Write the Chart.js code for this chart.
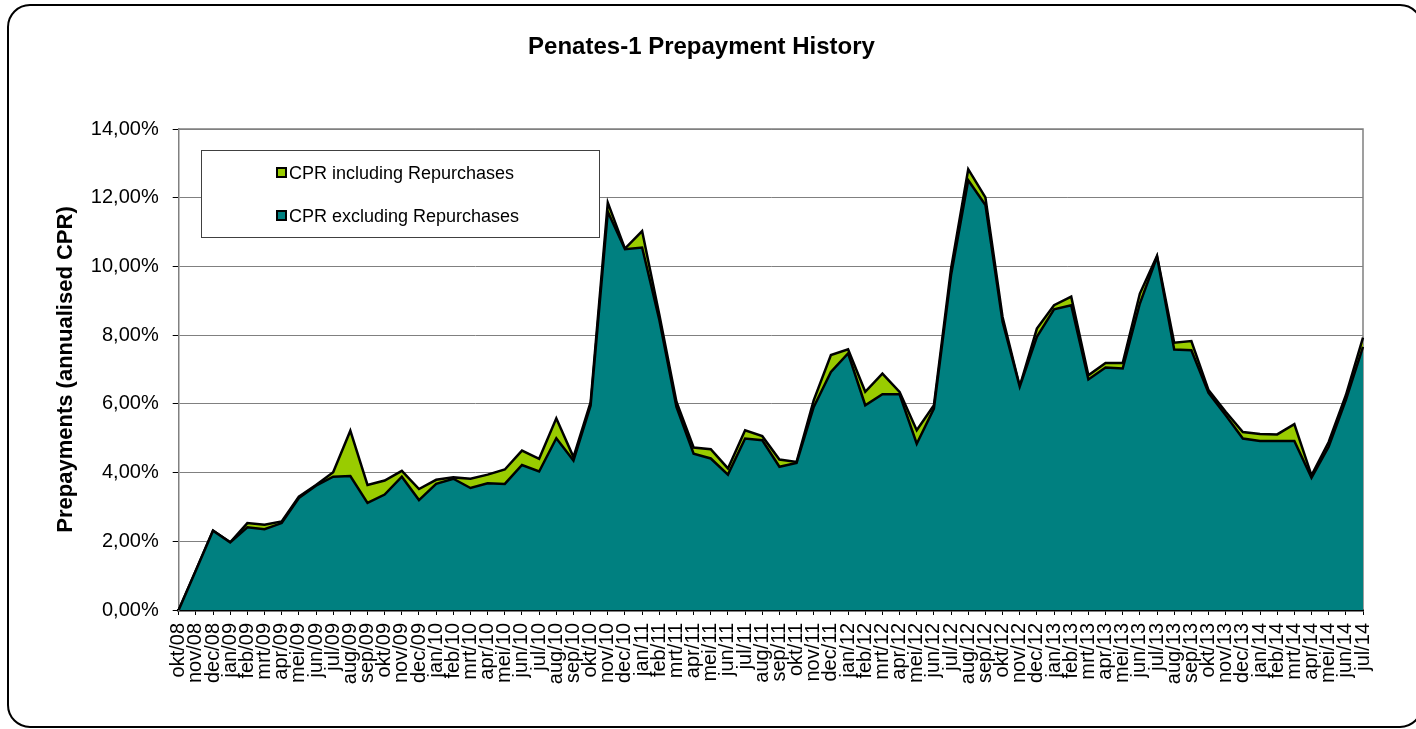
<!DOCTYPE html>
<html>
<head>
<meta charset="utf-8">
<script src="https://cdn.jsdelivr.net/npm/chart.js@4.4.1/dist/chart.umd.min.js"></script>
<style>
  html, body { margin: 0; padding: 0; background: #ffffff; }
  #wrap { width: 1416px; height: 729px; position: relative; }
</style>
</head>
<body>
<div id="wrap"><canvas id="c" width="1416" height="729"></canvas></div>
<script>
const chartTitle = 'Penates-1 Prepayment History';
const yAxisTitle = 'Prepayments (annualised CPR)';
const seriesNames = ['CPR including Repurchases', 'CPR excluding Repurchases'];

const months = ['okt/08','nov/08','dec/08',
  'jan/09','feb/09','mrt/09','apr/09','mei/09','jun/09','jul/09','aug/09','sep/09','okt/09','nov/09','dec/09',
  'jan/10','feb/10','mrt/10','apr/10','mei/10','jun/10','jul/10','aug/10','sep/10','okt/10','nov/10','dec/10',
  'jan/11','feb/11','mrt/11','apr/11','mei/11','jun/11','jul/11','aug/11','sep/11','okt/11','nov/11','dec/11',
  'jan/12','feb/12','mrt/12','apr/12','mei/12','jun/12','jul/12','aug/12','sep/12','okt/12','nov/12','dec/12',
  'jan/13','feb/13','mrt/13','apr/13','mei/13','jun/13','jul/13','aug/13','sep/13','okt/13','nov/13','dec/13',
  'jan/14','feb/14','mrt/14','apr/14','mei/14','jun/14','jul/14'];

// CPR including repurchases (%)
const cprIncl = [0, 1.15, 2.31, 1.97, 2.53, 2.48, 2.58, 3.30, 3.64, 4.01,
  5.22, 3.64, 3.77, 4.05, 3.52, 3.79, 3.86, 3.82, 3.94, 4.09,
  4.64, 4.40, 5.58, 4.45, 6.05, 11.86, 10.52, 11.03, 8.60, 6.06,
  4.73, 4.68, 4.12, 5.23, 5.06, 4.38, 4.31, 6.11, 7.42, 7.59,
  6.35, 6.88, 6.35, 5.23, 5.96, 9.94, 12.83, 12.01, 8.53, 6.51,
  8.19, 8.87, 9.12, 6.83, 7.19, 7.19, 9.21, 10.31, 7.78, 7.83,
  6.40, 5.77, 5.18, 5.12, 5.11, 5.41, 3.92, 4.89, 6.25, 7.93];

// CPR excluding repurchases (%)
const cprExcl = [0, 1.15, 2.31, 1.97, 2.41, 2.35, 2.53, 3.26, 3.62, 3.88,
  3.90, 3.12, 3.36, 3.88, 3.20, 3.67, 3.82, 3.55, 3.69, 3.67,
  4.22, 4.03, 5.00, 4.35, 5.95, 11.59, 10.50, 10.55, 8.45, 5.91,
  4.55, 4.41, 3.94, 4.99, 4.94, 4.17, 4.28, 5.91, 6.93, 7.47,
  5.96, 6.28, 6.28, 4.84, 5.86, 9.75, 12.51, 11.79, 8.39, 6.50,
  7.95, 8.75, 8.87, 6.71, 7.06, 7.03, 8.92, 10.28, 7.58, 7.56,
  6.32, 5.67, 4.99, 4.92, 4.92, 4.92, 3.85, 4.75, 6.11, 7.66];

const yMin = 0, yMax = 14, yStep = 2;

const colIncl = '#99cc00';
const colExcl = '#008080';
const FONT = '"Liberation Sans", Arial, Helvetica, sans-serif';

const backgroundPlugin = {
  id: 'bg',
  beforeDraw(chart) {
    const ctx = chart.ctx;
    ctx.save();
    ctx.fillStyle = '#ffffff';
    ctx.fillRect(0, 0, chart.width, chart.height);
    ctx.restore();
  }
};

const plotBorderPlugin = {
  id: 'plotBorder',
  beforeDatasetsDraw(chart) {
    const {ctx, chartArea: a} = chart;
    ctx.save();
    ctx.strokeStyle = '#808080';
    ctx.lineWidth = 1.5;
    ctx.beginPath();
    ctx.moveTo(a.left, a.top);
    ctx.lineTo(a.right, a.top);
    ctx.lineTo(a.right, a.bottom);
    ctx.stroke();
    ctx.restore();
  }
};

const legendFramePlugin = {
  id: 'legendFrame',
  afterDraw(chart) {
    const ctx = chart.ctx;
    ctx.save();
    // legend box
    ctx.fillStyle = '#ffffff';
    ctx.fillRect(202, 151, 397, 86);
    ctx.strokeStyle = '#404040';
    ctx.lineWidth = 1;
    ctx.strokeRect(201.5, 150.5, 398, 87);
    const rows = [
      {label: chart.data.datasets[1].label, color: chart.data.datasets[1].backgroundColor, y: 173},
      {label: chart.data.datasets[0].label, color: chart.data.datasets[0].backgroundColor, y: 216}
    ];
    ctx.font = '18px ' + FONT;
    ctx.textBaseline = 'middle';
    ctx.textAlign = 'left';
    rows.forEach(r => {
      ctx.fillStyle = r.color;
      ctx.fillRect(277, r.y - 5, 9, 9);
      ctx.strokeStyle = '#000000';
      ctx.lineWidth = 2;
      ctx.strokeRect(277, r.y - 5, 9, 9);
      ctx.fillStyle = '#000000';
      ctx.fillText(r.label, 289, r.y + 1);
    });
    // outer rounded frame
    ctx.strokeStyle = '#000000';
    ctx.lineWidth = 2;
    ctx.beginPath();
    const x = 8, y = 5, w = 1414, h = 722, rr = 22;
    ctx.moveTo(x + rr, y);
    ctx.lineTo(x + w - rr, y);
    ctx.arcTo(x + w, y, x + w, y + rr, rr);
    ctx.lineTo(x + w, y + h - rr);
    ctx.arcTo(x + w, y + h, x + w - rr, y + h, rr);
    ctx.lineTo(x + rr, y + h);
    ctx.arcTo(x, y + h, x, y + h - rr, rr);
    ctx.lineTo(x, y + rr);
    ctx.arcTo(x, y, x + rr, y, rr);
    ctx.closePath();
    ctx.stroke();
    ctx.restore();
  }
};

new Chart(document.getElementById('c'), {
  type: 'line',
  data: {
    labels: months,
    datasets: [
      {
        label: seriesNames[1],
        data: cprExcl,
        backgroundColor: colExcl,
        borderColor: '#000000',
        borderWidth: 2.5,
        fill: 'origin',
        pointRadius: 0,
        tension: 0,
        order: 0
      },
      {
        label: seriesNames[0],
        data: cprIncl,
        backgroundColor: colIncl,
        borderColor: '#000000',
        borderWidth: 2.5,
        fill: 'origin',
        pointRadius: 0,
        tension: 0,
        order: 1
      }
    ]
  },
  options: {
    responsive: false,
    animation: false,
    devicePixelRatio: 1,
    layout: { padding: { left: 40, right: 53, top: 0, bottom: 0 } },
    plugins: {
      legend: { display: false },
      tooltip: { enabled: false },
      title: {
        display: true,
        text: chartTitle,
        color: '#000000',
        font: { family: FONT, size: 24, weight: 'bold' },
        padding: { top: 32.6, bottom: 67.6 }
      }
    },
    scales: {
      x: {
        type: 'category',
        offset: false,
        grid: { display: true, drawOnChartArea: false, drawTicks: true, tickLength: 5, color: '#000000', lineWidth: 1 },
        border: { display: true, color: '#000000', width: 2.5 },
        ticks: {
          autoSkip: false,
          minRotation: 90,
          maxRotation: 90,
          padding: 8,
          color: '#000000',
          font: { family: FONT, size: 20 }
        },
        afterFit(scale) { scale.height = 119; }
      },
      y: {
        min: yMin,
        max: yMax,
        grid: { color: '#808080', lineWidth: 1, drawTicks: true, tickLength: 6, tickColor: '#000000' },
        border: { display: true, color: '#808080', width: 1.5 },
        ticks: {
          stepSize: yStep,
          padding: 14,
          color: '#000000',
          font: { family: FONT, size: 20 },
          callback: v => v.toFixed(2).replace('.', ',') + '%'
        },
        title: {
          display: true,
          text: yAxisTitle,
          color: '#000000',
          font: { family: FONT, size: 22, weight: 'bold' },
          padding: { top: 13, bottom: 0 }
        },
        afterFit(scale) { scale.width = 138.7; }
      }
    }
  },
  plugins: [backgroundPlugin, plotBorderPlugin, legendFramePlugin]
});
</script>
</body>
</html>
